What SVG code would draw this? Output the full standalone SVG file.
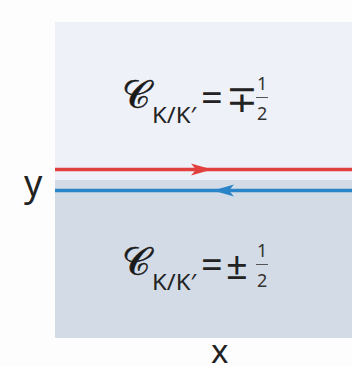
<svg xmlns="http://www.w3.org/2000/svg" width="352" height="366" viewBox="0 0 352 366">
<style>
.t{font-family:"Noto Sans","Open Sans",sans-serif;fill:#222}
.cal{font-family:"DejaVu Serif","Liberation Serif",serif;fill:#1a1a1a;stroke:#1a1a1a;stroke-width:0.6}
.sub{font-size:22px}
.op{font-size:38px}
.num{font-size:18px;fill:#333}
.bar{stroke:#555;stroke-width:1}
</style>
<rect width="352" height="366" fill="#fdfdfd"/>
<g id="top-region">
<rect x="55" y="22" width="297" height="158" fill="#eef1f8"/>
<text class="cal" x="122" y="108" font-size="39">𝒞</text>
<text class="t sub" x="152" y="123" textLength="44" lengthAdjust="spacingAndGlyphs">K/K′</text>
<text class="t op" x="201" y="111">=</text>
<text class="t op" x="226" y="112">∓</text>
<text class="t num" x="257" y="90">1</text>
<line class="bar" x1="256" y1="97.5" x2="268" y2="97.5"/>
<text class="t num" x="257" y="120">2</text>
</g>
<g id="bottom-region">
<rect x="55" y="180" width="297" height="158" fill="#d3dbe6"/>
<text class="cal" x="122" y="275" font-size="39">𝒞</text>
<text class="t sub" x="152" y="290" textLength="44" lengthAdjust="spacingAndGlyphs">K/K′</text>
<text class="t op" x="201" y="278">=</text>
<text class="t op" x="226" y="279">±</text>
<text class="t num" x="257" y="257">1</text>
<line class="bar" x1="256" y1="264.5" x2="268" y2="264.5"/>
<text class="t num" x="257" y="287">2</text>
</g>
<g id="connectors">
<line x1="55" y1="169.5" x2="352" y2="169.5" stroke="#e2403f" stroke-width="3.5"/>
<path d="M191,163.5 L212,169.5 L191,175.5 L196,169.5 Z" fill="#e2403f"/>
<line x1="55" y1="190.5" x2="352" y2="190.5" stroke="#2a84c8" stroke-width="3.5"/>
<path d="M234,184.5 L213,190.5 L234,196.5 L229,190.5 Z" fill="#2a84c8"/>
</g>
<g id="axis-labels">
<text class="t" x="24" y="196" font-size="36">y</text>
<text class="t" x="211" y="363" font-size="33">x</text>
</g>
</svg>
